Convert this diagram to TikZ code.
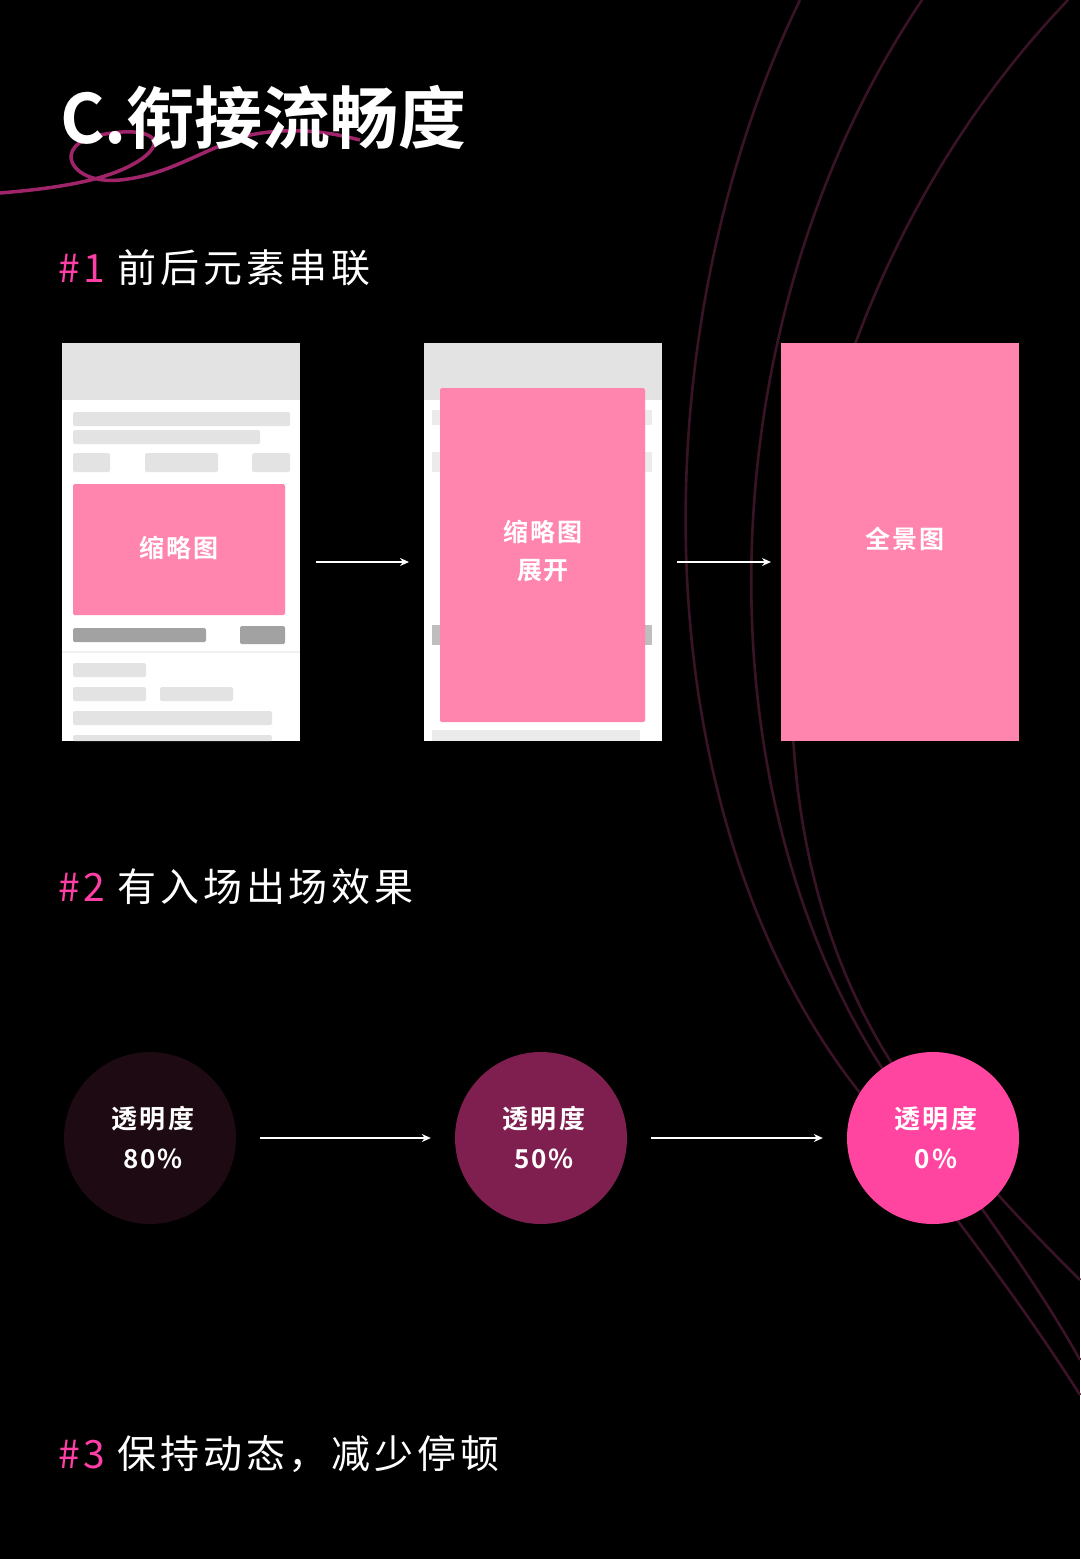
\documentclass[tikz,border=0pt]{standalone}
\usepackage{fontspec}
\usetikzlibrary{arrows.meta}
\setmainfont{Noto Sans CJK SC}
\newfontfamily\cjkb{Noto Sans CJK SC Bold}
\newfontfamily\cjkh[LetterSpace=10]{Noto Sans CJK SC}
\newfontfamily\cjkm[LetterSpace=8]{Noto Sans CJK SC Bold}
\definecolor{arcc}{HTML}{3A1326}
\definecolor{pinkc}{HTML}{FF85AE}
\definecolor{hl}{HTML}{FF3FA6}
\definecolor{lg}{HTML}{E3E3E3}
\definecolor{dg}{HTML}{A2A2A2}
\definecolor{swo}{HTML}{A0246A}
\definecolor{cA}{HTML}{1E0A12}
\definecolor{cB}{HTML}{7F1F4F}
\definecolor{cC}{HTML}{FF45A0}
\begin{document}
\begin{tikzpicture}[x=1pt,y=-1pt,
  arcl/.style={draw=arcc,line width=2.6pt},
  bar/.style={fill=lg,rounded corners=1.5pt},
  dbar/.style={fill=dg,rounded corners=1.5pt},
  arr/.style={draw=white,line width=1.4pt,-{Stealth[length=9pt,width=8pt]}},
  head/.style={anchor=west,text=white,font=\cjkh\fontsize{39}{40}\selectfont,inner sep=0pt},
  ptxt/.style={text=white,font=\cjkm\fontsize{25}{38}\selectfont,align=center},
  circ/.style={circle,minimum size=172pt,inner sep=0pt,text=white,align=center,font=\cjkm\fontsize{26}{40}\selectfont}]
\fill[black] (0,0) rectangle (1080,1559);
\useasboundingbox (0,0) rectangle (1080,1559);
% background arcs
\draw[arcl] (800,0) .. controls (640,330) and (640,800) .. (850,1080) .. controls (950,1210) and (1020,1300) .. (1080,1395);
\draw[arcl] (922,0) .. controls (700,330) and (700,800) .. (890,1080) .. controls (960,1180) and (1030,1270) .. (1080,1360);
\draw[arcl] (1068,0) .. controls (780,300) and (700,800) .. (910,1090) .. controls (980,1180) and (1040,1240) .. (1080,1280);
% title swoosh
\draw[swo,line width=3.5pt] (0,193) .. controls (60,188) and (110,180) .. (140,160) .. controls (170,140) and (150,125) .. (100,135) .. controls (50,145) and (70,185) .. (120,180) .. controls (170,175) and (200,150) .. (250,135) .. controls (300,125) and (340,135) .. (360,140);
\node[anchor=west,inner sep=0pt,text=white,font=\cjkb\fontsize{68}{72}\selectfont] (title) at (60,117) {C.衔接流畅度};
% headings
\node[head] (h1) at (58,268) {\textcolor{hl}{\#1}\hspace{12pt}前后元素串联};
\node[head] (h2) at (58,887) {\textcolor{hl}{\#2}\hspace{12pt}有入场出场效果};
\node[head] (h3) at (58,1454) {\textcolor{hl}{\#3}\hspace{12pt}保持动态，减少停顿};
% screen 1
\fill[white] (62,343) rectangle (300,741);
\fill[lg] (62,343) rectangle (300,400);
\fill[bar] (73,412) rectangle (290,426);
\fill[bar] (73,430) rectangle (260,444);
\fill[bar] (73,453) rectangle (110,472);
\fill[bar] (145,453) rectangle (218,472);
\fill[bar] (252,453) rectangle (290,472);
\fill[pinkc,rounded corners=1.5pt] (73,484) rectangle (285,615);
\node[ptxt] (t1) at (179,548) {缩略图};
\fill[dbar] (73,628) rectangle (206,642);
\fill[dbar] (240,626) rectangle (285,644);
\fill[lg!50] (62,651) rectangle (300,653);
\fill[bar] (73,663) rectangle (146,677);
\fill[bar] (73,687) rectangle (146,701);
\fill[bar] (160,687) rectangle (233,701);
\fill[bar] (73,711) rectangle (272,725);
\fill[bar] (73,735) rectangle (272,741);
% screen 2
\fill[white] (424,343) rectangle (662,741);
\fill[lg] (424,343) rectangle (662,400);
\fill[lg!70] (432,410) rectangle (652,425);
\fill[lg!70] (432,452) rectangle (652,472);
\fill[dg!70] (432,625) rectangle (652,645);
\fill[lg!70] (432,730) rectangle (640,741);
\fill[pinkc,rounded corners=1.5pt] (440,388) rectangle (645,722);
\node[ptxt] (t2) at (543,551) {缩略图\\展开};
% screen 3
\fill[pinkc] (781,343) rectangle (1019,741);
\node[ptxt] (t3) at (905,539) {全景图};
\coordinate (a1s) at (316,562); \coordinate (a1e) at (409,562);
\coordinate (a2s) at (677,562); \coordinate (a2e) at (771,562);
\draw[arr] (a1s) -- (a1e);
\draw[arr] (a2s) -- (a2e);
% circles
\node[circ,fill=cA] (c1) at (150,1138) {\hspace{6pt}透明度\\\hspace{6pt}80\%};
\node[circ,fill=cB] (c2) at (541,1138) {\hspace{6pt}透明度\\\hspace{6pt}50\%};
\node[circ,fill=cC] (c3) at (933,1138) {\hspace{6pt}透明度\\\hspace{6pt}0\%};
\draw[arr] ([xshift=24pt]c1.east) -- ([xshift=-24pt]c2.west);
\draw[arr] ([xshift=24pt]c2.east) -- ([xshift=-24pt]c3.west);
\end{tikzpicture}
\end{document}
